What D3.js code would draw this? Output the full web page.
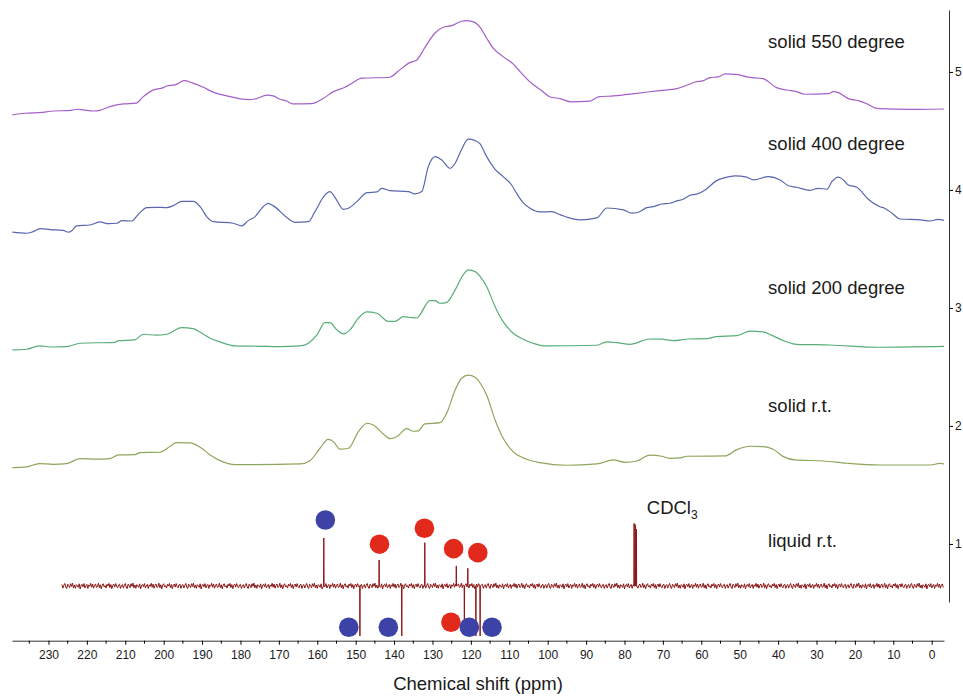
<!DOCTYPE html>
<html><head><meta charset="utf-8">
<script src="https://cdn.jsdelivr.net/npm/d3@7"></script>
<style>body{margin:0;background:#fff}svg{display:block}text{font-family:"Liberation Sans",Arial,sans-serif;fill:#1a1a1a}</style>
</head><body><svg id="c" width="963" height="697"></svg>
<script>
// ---------- data (ppm, intensity in offset units of the right axis) ----------
const ppm550 = [239.4,236.1,231.4,229.6,224.0,222.5,220.9,218.3,216.6,214.0,210.5,207.2,205.3,203.1,200.1,199.2,197.1,194.6,192.7,189.7,187.3,182.7,178.0,175.8,173.2,171.5,169.7,168.0,166.4,161.5,158.4,155.8,152.8,151.0,148.4,141.1,138.9,135.9,134.1,132.0,129.4,127.2,125.0,122.4,121.1,118.9,117.6,115.9,114.2,111.6,109.0,107.2,104.2,101.6,99.4,96.8,93.8,89.0,86.8,82.9,76.8,70.8,66.4,63.8,61.6,59.5,57.7,55.6,53.8,50.4,48.2,43.9,40.4,37.8,35.2,33.0,26.9,25.6,24.3,21.7,19.1,16.9,14.8,13.5,5.7,-3.2];
const val550 = [4.636,4.650,4.658,4.667,4.675,4.684,4.678,4.669,4.675,4.706,4.729,4.735,4.791,4.842,4.867,4.881,4.890,4.926,4.909,4.870,4.831,4.791,4.765,4.774,4.803,4.797,4.769,4.754,4.729,4.731,4.777,4.833,4.870,4.904,4.947,4.955,5.008,5.079,5.102,5.206,5.328,5.379,5.392,5.430,5.435,5.418,5.377,5.286,5.201,5.130,5.068,5.003,4.904,4.842,4.788,4.774,4.746,4.752,4.788,4.797,4.819,4.842,4.858,4.887,4.915,4.926,4.952,4.958,4.983,4.977,4.958,4.943,4.867,4.847,4.833,4.811,4.816,4.833,4.825,4.774,4.757,4.731,4.695,4.689,4.682,4.686];

const ppm400 = [239.4,235.7,234.0,232.2,229.6,226.2,224.8,224.0,222.7,219.2,216.6,214.4,212.2,210.9,208.3,206.6,204.4,201.8,199.2,197.5,195.3,192.3,190.5,188.8,187.1,181.9,179.7,178.0,176.2,174.1,172.8,171.5,168.0,165.8,162.3,160.6,158.0,156.7,155.4,153.2,151.9,149.7,147.1,144.5,143.2,141.1,136.3,134.6,132.8,131.1,129.3,127.6,125.4,124.1,122.4,120.7,118.9,117.6,115.9,113.7,111.6,109.4,108.1,106.4,104.6,102.0,99.0,96.8,94.6,91.6,87.2,84.6,80.3,78.1,76.4,74.2,72.5,70.3,68.2,66.4,64.7,62.9,61.2,59.0,56.0,53.8,51.2,48.2,46.4,42.6,39.5,37.3,35.2,31.7,29.5,27.3,26.0,24.3,23.0,21.7,19.5,16.5,13.5,12.4,10.1,8.3,3.0,0.4,-1.6,-3.2];
const val400 = [3.642,3.633,3.647,3.672,3.664,3.658,3.642,3.653,3.695,3.703,3.729,3.714,3.718,3.740,3.737,3.794,3.850,3.853,3.850,3.867,3.904,3.904,3.858,3.774,3.731,3.718,3.695,3.740,3.774,3.858,3.887,3.867,3.769,3.726,3.731,3.816,3.958,3.986,3.938,3.836,3.845,3.901,3.977,3.983,4.014,3.994,3.986,3.966,3.986,4.197,4.282,4.254,4.184,4.226,4.345,4.430,4.418,4.390,4.282,4.175,4.113,4.042,3.972,3.892,3.845,3.814,3.816,3.791,3.765,3.746,3.763,3.847,3.831,3.803,3.811,3.850,3.858,3.881,3.887,3.907,3.921,3.955,3.964,4.000,4.079,4.104,4.119,4.108,4.085,4.113,4.085,4.036,4.023,3.997,4.014,4.006,4.070,4.108,4.085,4.042,4.023,3.921,3.858,3.847,3.797,3.754,3.746,3.737,3.750,3.742];

const ppm200 = [239.4,235.7,232.4,228.8,224.8,221.8,212.7,211.8,207.6,205.3,201.9,199.2,195.3,192.3,190.5,187.9,185.3,181.4,174.9,169.7,164.5,162.3,160.1,158.0,156.7,154.9,153.2,151.5,149.3,147.1,144.5,141.5,139.7,137.6,135.9,134.1,133.3,130.7,129.3,128.1,126.4,124.1,122.0,120.7,118.9,117.6,115.9,113.7,111.6,109.0,106.4,103.8,100.7,87.2,84.6,82.0,78.6,73.4,70.3,67.3,63.4,58.6,56.0,50.8,47.3,43.9,41.3,38.2,35.2,26.5,13.5,-3.2];
const val200 = [2.644,2.650,2.678,2.669,2.675,2.701,2.709,2.723,2.729,2.777,2.769,2.777,2.833,2.825,2.794,2.743,2.712,2.678,2.675,2.672,2.678,2.701,2.771,2.875,2.875,2.814,2.780,2.814,2.913,2.966,2.955,2.887,2.887,2.926,2.921,2.915,2.941,3.062,3.062,3.040,3.045,3.153,3.280,3.322,3.308,3.267,3.181,3.011,2.884,2.786,2.735,2.701,2.678,2.684,2.712,2.706,2.692,2.737,2.735,2.723,2.737,2.740,2.757,2.765,2.803,2.797,2.763,2.718,2.692,2.686,2.667,2.674];

const ppmRT = [239.4,235.7,232.4,228.8,225.3,221.8,217.4,214.0,211.8,207.5,206.2,201.0,198.4,196.7,193.2,190.5,187.9,185.3,181.4,164.5,161.9,159.3,157.2,155.8,154.1,151.9,149.3,147.1,145.4,142.8,141.1,139.3,136.7,135.0,133.7,132.0,128.0,126.3,124.1,122.4,120.7,118.9,117.6,115.9,113.7,111.6,109.0,105.5,102.0,95.1,87.2,82.9,79.9,76.8,73.4,70.3,68.2,65.5,63.8,53.8,50.9,47.3,43.9,41.3,38.6,35.6,28.2,22.1,13.5,0.4,-2.1,-3.2];
const valRT = [1.647,1.653,1.681,1.675,1.681,1.723,1.718,1.723,1.754,1.757,1.774,1.777,1.825,1.858,1.856,1.819,1.754,1.706,1.672,1.678,1.706,1.811,1.887,1.867,1.803,1.811,1.952,2.023,2.008,1.932,1.892,1.909,1.977,1.955,1.958,2.017,2.028,2.108,2.305,2.404,2.430,2.413,2.364,2.263,2.051,1.896,1.782,1.718,1.689,1.667,1.678,1.712,1.692,1.703,1.752,1.743,1.726,1.729,1.743,1.746,1.797,1.828,1.825,1.803,1.740,1.712,1.703,1.684,1.669,1.669,1.682,1.678];

// liquid-state spectrum: baseline, noise pattern, peaks (height relative to baseline)
const liquidStart = 226.5, liquidEnd = -3.2, liquidBase = 0.644;
const liquidNoise = [0.012,-0.018,0.005,0.021,-0.009,-0.022,0.015,0.003,-0.014,0.019,-0.004,0.024,-0.016,0.008,-0.020,0.011,0.002,-0.012,0.018,-0.025,0.006,0.014,-0.007,0.020,-0.017,0.001,0.013,-0.021,0.009,-0.003,0.022,-0.011,0.016,-0.019,0.004,0.017,-0.013,-0.006,0.023,-0.015,0.010,-0.024,0.007,0.019,-0.008,0.003,-0.018,0.015,-0.001,0.021,-0.014,0.012,-0.023,0.006,0.016,-0.010,0.020,-0.005,-0.016,0.009,0.014,-0.021,0.004];
const liquidPeakPpm = [158.3,148.9,143.9,138.0,132.0,123.8,121.7,120.8,118.7,117.6,77.5,77.2,76.9];
const liquidPeakHeight = [0.407,-0.424,0.220,-0.424,0.367,0.170,-0.300,0.150,-0.424,-0.424,0.530,0.520,0.480];

// assignment markers
const markerPpm = [157.9,143.8,132.1,124.5,118.2,151.8,141.5,125.2,120.4,114.5];
const markerVal = [1.203,0.998,1.133,0.960,0.926,0.294,0.294,0.336,0.294,0.294];
const markerKind = ["blue","red","red","red","red","blue","blue","red","blue","blue"];

// labels
const seriesNames = ["solid 550 degree","solid 400 degree","solid 200 degree","solid r.t.","liquid r.t."];
const labelVal = [5.201,4.339,3.119,2.121,0.975];
const labelPpm = 42.6;
const xTicks = [230,220,210,200,190,180,170,160,150,140,130,120,110,100,90,80,70,60,50,40,30,20,10,0];
const yTicks = [1,2,3,4,5];

// ---------- drawing ----------
const svg = d3.select("#c");
const x = d3.scaleLinear().domain([239.5,-3.2]).range([12,944]);
const y = d3.scaleLinear().domain([0.18,5.525]).range([640.7,10]);

const colors = {s550:"#a45fc8", s400:"#5a67ae", s200:"#58ad78", srt:"#8ea55c", liq:"#8c1515", blue:"#3d43a6", red:"#e12a1c"};

const line = d3.line().x(d=>x(d[0])).y(d=>y(d[1])).curve(d3.curveMonotoneX);
const series = [[ppm550,val550,colors.s550],[ppm400,val400,colors.s400],[ppm200,val200,colors.s200],[ppmRT,valRT,colors.srt]];
series.forEach(([p,v,c])=>{
  svg.append("path").attr("d", line(p.map((q,i)=>[q,v[i]]))).attr("fill","none").attr("stroke",c).attr("stroke-width",1.2);
});

// liquid
let pts = d3.range(liquidStart, liquidEnd, -0.25).map((p,i)=>[p, liquidBase + liquidNoise[i % liquidNoise.length]]);
pts = pts.filter(d=>!liquidPeakPpm.some(q=>Math.abs(q-d[0])<0.2));
liquidPeakPpm.forEach((p,i)=>{
  pts.push([p+0.06, liquidBase]);
  pts.push([p, liquidBase + liquidPeakHeight[i]]);
  pts.push([p-0.06, liquidBase]);
});
pts.sort((a,b)=>b[0]-a[0]);
svg.append("path").attr("d", d3.line().x(d=>x(d[0])).y(d=>y(d[1]))(pts))
  .attr("fill","none").attr("stroke",colors.liq).attr("stroke-width",1);

// markers
svg.append("g").selectAll("circle").data(markerPpm).join("circle")
  .attr("cx",d=>x(d)).attr("cy",(d,i)=>y(markerVal[i])).attr("r",9.8)
  .attr("fill",(d,i)=>colors[markerKind[i]]);

// labels
svg.append("g").selectAll("text").data(seriesNames).join("text")
  .attr("x",x(labelPpm)).attr("y",(d,i)=>y(labelVal[i])).attr("font-size","18.5px").text(d=>d);
const cd = svg.append("text").attr("x",x(74.2)).attr("y",y(1.254)).attr("font-size","18.5px");
cd.append("tspan").text("CDCl");
cd.append("tspan").attr("font-size","12px").attr("dy","5").text("3");

// x axis
const gx = svg.append("g").attr("transform",`translate(0,${y(0.18)})`)
  .call(d3.axisBottom(x).tickValues(xTicks).tickSize(4).tickPadding(6).tickSizeOuter(0).tickFormat(d3.format("d")));
gx.selectAll("text").attr("font-size","12px").style("font-family","Liberation Sans, Arial, sans-serif");
gx.append("g").selectAll("line").data(xTicks.map(t=>t+5).filter(t=>t<239.5)).join("line")
  .attr("x1",d=>x(d)).attr("x2",d=>x(d)).attr("y1",0).attr("y2",3).attr("stroke","#000");
gx.select(".domain").attr("stroke","#333");
svg.append("text").attr("x",478).attr("y",690).attr("text-anchor","middle").attr("font-size","18.5px").text("Chemical shift (ppm)");

// right axis
const yr = y.copy().domain([0.508,5.525]).range([y(0.508),y(5.525)]);
const gy = svg.append("g").attr("transform","translate(949,0)")
  .call(d3.axisRight(yr).tickValues(yTicks).tickSize(4).tickPadding(2).tickSizeOuter(0).tickFormat(d3.format("d")));
gy.selectAll("text").attr("font-size","12px").style("font-family","Liberation Sans, Arial, sans-serif");
gy.select(".domain").attr("stroke","#333");
</script></body></html>
